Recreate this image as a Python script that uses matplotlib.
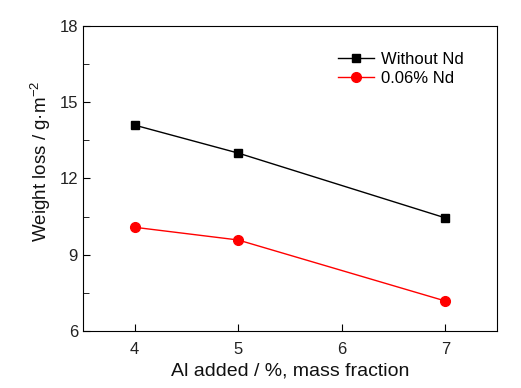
import matplotlib.pyplot as plt
from matplotlib.ticker import MultipleLocator

plt.rcParams['font.family'] = ['Liberation Sans', 'DejaVu Sans']
plt.rcParams['mathtext.fontset'] = 'custom'
plt.rcParams['mathtext.rm'] = 'Liberation Sans'
plt.rcParams['mathtext.it'] = 'Liberation Sans'

al_added = [4, 5, 7]
loss_without_nd = [14.1, 13.0, 10.45]
loss_006_nd = [10.08, 9.58, 7.18]

fig = plt.figure(figsize=(5.21, 3.88), dpi=100)
ax = fig.add_axes([0.159, 0.147, 0.795, 0.786])

ax.plot(al_added, loss_without_nd, color='black', lw=1, marker='s', ms=6,
        label='Without Nd')
ax.plot(al_added, loss_006_nd, color='red', lw=1, marker='o', ms=7,
        label='0.06% Nd')

ax.set_xlim(3.5, 7.5)
ax.set_ylim(6, 18)
ax.set_xticks([4, 5, 6, 7])
ax.set_yticks([6, 9, 12, 15, 18])
ax.yaxis.set_minor_locator(MultipleLocator(1.5))
ax.tick_params(which='both', direction='in', labelsize=12, top=False, right=False,
               labelcolor='#222222')
ax.tick_params(which='major', length=5)
ax.tick_params(which='minor', length=4)
ax.tick_params(axis='x', pad=8)

ax.set_xlabel('Al added / %, mass fraction', fontsize=14, color='#111111')
ax.set_ylabel('Weight loss / g\u00b7m$^{-2}$', fontsize=13.5, color='#111111')
ax.yaxis.set_label_coords(-0.072, 0.555)

ax.legend(loc='upper left', bbox_to_anchor=(0.615, 0.915), frameon=False,
          borderaxespad=0, borderpad=0, fontsize=12, handlelength=2.2,
          handletextpad=0.4, labelspacing=0.25)

fig.savefig('out.png', dpi=100)
